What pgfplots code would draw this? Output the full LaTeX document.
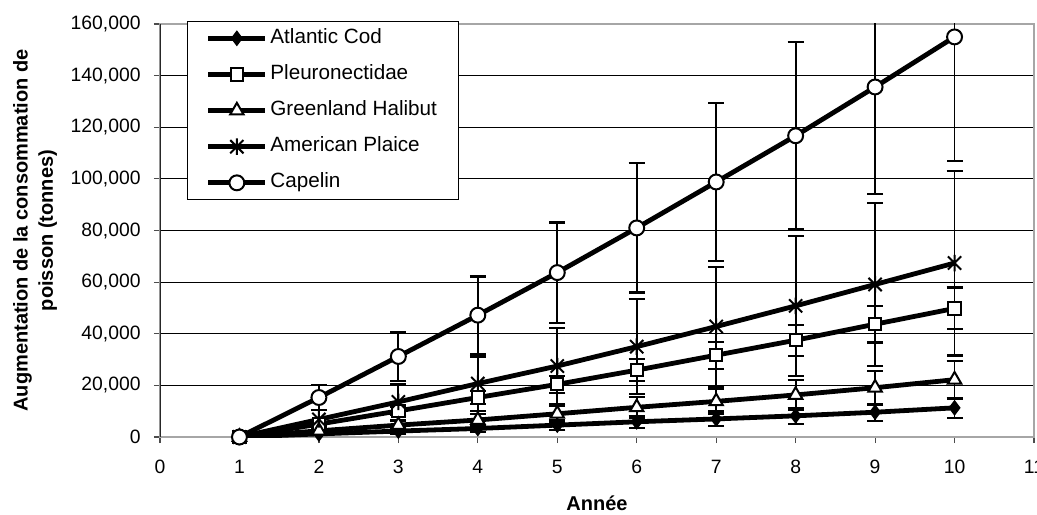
\documentclass[border=0pt]{standalone}
\usepackage{fontspec}
\setmainfont{Liberation Sans}
\usepackage{pgfplots}
\pgfplotsset{compat=1.18}
\pgfdeclareplotmark{xstar}{%
  \pgfpathmoveto{\pgfqpoint{0pt}{\pgfplotmarksize}}%
  \pgfpathlineto{\pgfqpoint{0pt}{-\pgfplotmarksize}}%
  \pgfpathmoveto{\pgfqpoint{-0.8\pgfplotmarksize}{0.8\pgfplotmarksize}}%
  \pgfpathlineto{\pgfqpoint{0.8\pgfplotmarksize}{-0.8\pgfplotmarksize}}%
  \pgfpathmoveto{\pgfqpoint{-0.8\pgfplotmarksize}{-0.8\pgfplotmarksize}}%
  \pgfpathlineto{\pgfqpoint{0.8\pgfplotmarksize}{0.8\pgfplotmarksize}}%
  \pgfusepathqstroke}
\begin{document}
\begin{tikzpicture}
\path[use as bounding box] (-120pt,-57.75pt) rectangle (657.75pt,327.75pt);
\begin{axis}[
  scale only axis,
  width=655.5pt, height=309.75pt,
  xmin=0, xmax=11, ymin=0, ymax=160000,
  xtick={0,1,...,11},
  ytick={0,20000,...,160000},
  scaled y ticks=false,
  /pgf/number format/.cd, fixed, 1000 sep={,}, assume math mode=true,
  /pgfplots/.cd,
  tick align=outside,
  xtick pos=bottom, ytick pos=left,
  major tick length=4.5pt,
  tick style={line width=0.9pt, gray!60!black},
  ymajorgrids,
  major grid style={line width=0.75pt, black},
  axis line style={line width=1.5pt, gray!70},
  tick label style={font=\fontsize{14.5}{17}\selectfont},
  xticklabel style={yshift=-9pt},
  yticklabel style={xshift=-6.5pt},
  xlabel={Année},
  ylabel={Augmentation de la consommation de\\poisson (tonnes)},
  label style={font=\fontsize{15}{19}\selectfont\bfseries},
  ylabel style={align=center, at={(axis description cs:-0.143,0.5)}, anchor=center},
  xlabel style={at={(axis description cs:0.5,-0.16)}, anchor=center},
  legend style={at={(0.0305,1.008)}, anchor=north west, draw=black, line width=0.9pt,
    fill=white, font=\fontsize{15.5}{18}\selectfont, row sep=8.6pt,
    inner xsep=14pt, inner ysep=3.5pt,
    nodes={inner sep=2pt, text height=11pt, text depth=3.5pt}},
  legend cell align=left,
  legend image code/.code={%
    \draw[#1, mark repeat=2, mark phase=2] plot coordinates {(0pt,0pt) (21.4pt,0pt) (42.75pt,0pt)};},
  every axis plot/.append style={black, line width=3.6pt},
  error bars/y dir=both, error bars/y explicit,
  error bars/error bar style={line width=1.4pt, black},
  error bars/error mark options={rotate=90, line width=1.6pt, black, mark size=6pt},
]
\addplot[mark=diamond*, mark size=5.2pt, mark options={fill=black, line width=1pt, solid}]
 coordinates {(1,0) +- (0,0) (2,1200) +- (0,500) (3,2300) +- (0,1000) (4,3300) +- (0,1400)
 (5,4600) +- (0,1800) (6,5900) +- (0,2400) (7,7000) +- (0,2900) (8,8200) +- (0,3000)
 (9,9600) +- (0,3300) (10,11300) +- (0,3800)};
\addlegendentry{Atlantic Cod}
\addplot[mark=square*, mark size=4.6pt, mark options={fill=white, line width=1.5pt, solid}]
 coordinates {(1,0) +- (0,0) (2,5000) +- (0,800) (3,10100) +- (0,1600) (4,15300) +- (0,2500)
 (5,20400) +- (0,3400) (6,25900) +- (0,4300) (7,31700) +- (0,5200) (8,37500) +- (0,6000)
 (9,43700) +- (0,7100) (10,49800) +- (0,8100)};
\addlegendentry{Pleuronectidae}
\addplot[mark=triangle*, mark size=5.8pt, mark options={fill=white, line width=1.5pt, solid}]
 coordinates {(1,0) +- (0,0) (2,2400) +- (0,1000) (3,4600) +- (0,1800) (4,6600) +- (0,2300)
 (5,9000) +- (0,3000) (6,11500) +- (0,4000) (7,13800) +- (0,5000) (8,16300) +- (0,5800)
 (9,19100) +- (0,6500) (10,22200) +- (0,7400)};
\addlegendentry{Greenland Halibut}
\addplot[mark=xstar, mark size=6.2pt, mark options={line width=1.5pt, solid}]
 coordinates {(1,0) +- (0,0) (2,6800) +- (0,3500) (3,13600) +- (0,7000) (4,20700) +- (0,10500)
 (5,27500) +- (0,14800) (6,35000) +- (0,18500) (7,42800) +- (0,23000) (8,50800) +- (0,27000)
 (9,59100) +- (0,31500) (10,67400) +- (0,35800)};
\addlegendentry{American Plaice}
\addplot[mark=*, mark size=5.6pt, mark options={fill=white, line width=1.5pt, solid}]
 coordinates {(1,0) +- (0,0) (2,15300) +- (0,4900) (3,31200) +- (0,9400) (4,47200) +- (0,15000)
 (5,63700) +- (0,19400) (6,81000) +- (0,25000) (7,98800) +- (0,30500) (8,116700) +- (0,36200)
 (9,135600) +- (0,41500) (10,155000) +- (0,48000)};
\addlegendentry{Capelin}
\draw[line width=1.5pt, black!85] (rel axis cs:0,0) -- (rel axis cs:0,1);
\end{axis}
\end{tikzpicture}
\end{document}
